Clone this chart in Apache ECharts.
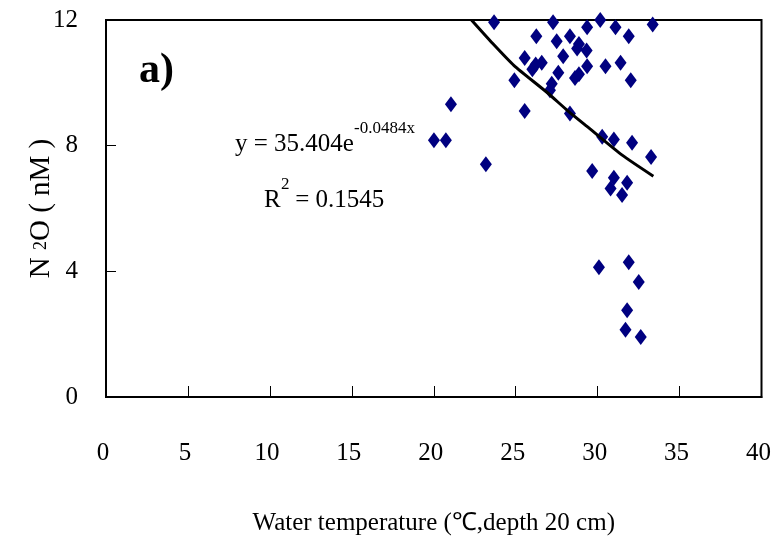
<!DOCTYPE html>
<html>
<head>
<meta charset="utf-8">
<script src="https://cdn.jsdelivr.net/npm/echarts@6/dist/echarts.min.js"></script>
<style>
  html, body { margin: 0; padding: 0; background: #fff; }
  #main { width: 774px; height: 547px; }
</style>
</head>
<body>
<div id="main"></div>
<script>
// water temperature (x) and N2O (y)
var tempX = [23.68, 27.28, 29.36, 30.16, 31.09, 31.90, 33.36, 26.26, 27.50, 28.31,
             28.86, 28.75, 29.33, 27.90, 25.55, 26.59, 26.22, 26.02, 29.36, 30.48,
             31.40, 27.60, 28.86, 28.62, 32.02, 24.92, 27.20, 27.09, 21.05, 25.55,
             28.31, 20.01, 20.74, 30.28, 30.99, 32.10, 33.26, 23.18, 29.67, 30.99,
             31.80, 30.79, 31.49, 30.08, 31.90, 32.51, 31.80, 31.70, 32.63];
var n2o = [11.93, 11.93, 11.77, 12.0, 11.77, 11.48, 11.86, 11.48, 11.32, 11.48,
           11.24, 11.09, 11.03, 10.85, 10.79, 10.64, 10.58, 10.43, 10.53, 10.53,
           10.64, 10.32, 10.27, 10.15, 10.08, 10.08, 9.97, 9.76, 9.32, 9.10,
           9.02, 8.17, 8.17, 8.28, 8.20, 8.09, 7.64, 7.41, 7.19, 6.98,
           6.82, 6.64, 6.43, 4.13, 4.29, 3.66, 2.76, 2.14, 1.91];

// exponential trend line
var trendX = [22.3, 23.6, 24.9, 26.9, 28.2, 29.5, 31.5, 33.4];
var trendY = [12.0, 11.25, 10.55, 9.7, 9.1, 8.55, 7.7, 7.03];

var xTicks = [0, 5, 10, 15, 20, 25, 30, 35, 40];
var yTicks = [0, 4, 8, 12];

var font = "'Liberation Serif', 'Times New Roman', serif";

var myChart = echarts.init(document.getElementById('main'));

myChart.setOption({
    animation: false,
    backgroundColor: '#fff',
    grid: {
        left: 106, right: 12, top: 20, bottom: 150,
        show: true, borderColor: '#000', borderWidth: 2
    },
    xAxis: {
        type: 'value',
        min: xTicks[0], max: xTicks[xTicks.length - 1], interval: 5,
        name: 'Water temperature (℃,depth 20 cm)',
        nameLocation: 'middle', nameGap: 114, nameMoveOverlap: false,
        nameTextStyle: { fontFamily: font, fontSize: 25, color: '#000' },
        axisLine: { lineStyle: { color: '#000', width: 2 } },
        axisTick: { inside: true, length: 11, lineStyle: { color: '#000', width: 1 } },
        axisLabel: { margin: 44, fontFamily: font, fontSize: 25, color: '#000', padding: [0, 6, 0, 0] },
        splitLine: { show: false }
    },
    yAxis: {
        type: 'value',
        min: yTicks[0], max: yTicks[yTicks.length - 1], interval: 4,
        name: 'N {s|2}O ( nM )',
        nameLocation: 'middle', nameGap: 50, nameRotate: 90, nameMoveOverlap: false,
        nameTextStyle: {
            fontFamily: font, fontSize: 29, color: '#000',
            rich: { s: { fontFamily: font, fontSize: 18, color: '#000' } }
        },
        axisLine: { lineStyle: { color: '#000', width: 2 } },
        axisTick: { inside: true, length: 10, lineStyle: { color: '#000', width: 1 } },
        axisLabel: { margin: 28, fontFamily: font, fontSize: 25, color: '#000' },
        splitLine: { show: false }
    },
    graphic: [
        { type: 'text', left: 139, top: 50,
          style: { text: 'a)', font: 'bold 42px ' + font, fill: '#000' } },
        { type: 'text', left: 235, top: 132,
          style: { text: 'y = 35.404e', font: '25px ' + font, fill: '#000' } },
        { type: 'text', left: 354, top: 120,
          style: { text: '-0.0484x', font: '17px ' + font, fill: '#000' } },
        { type: 'text', left: 264, top: 188,
          style: { text: 'R', font: '25px ' + font, fill: '#000' } },
        { type: 'text', left: 281, top: 176,
          style: { text: '2', font: '17px ' + font, fill: '#000' } },
        { type: 'text', left: 289, top: 188,
          style: { text: ' = 0.1545', font: '25px ' + font, fill: '#000' } }
    ],
    series: [
        {
            type: 'scatter',
            symbol: 'diamond',
            symbolSize: [12, 16],
            itemStyle: { color: '#000080', opacity: 1 },
            data: tempX.map(function (x, i) { return [x, n2o[i]]; }),
            z: 3
        },
        {
            type: 'line',
            smooth: 0.2,
            showSymbol: false,
            lineStyle: { color: '#000', width: 3 },
            data: trendX.map(function (x, i) { return [x, trendY[i]]; }),
            z: 4
        }
    ]
});
</script>
</body>
</html>
